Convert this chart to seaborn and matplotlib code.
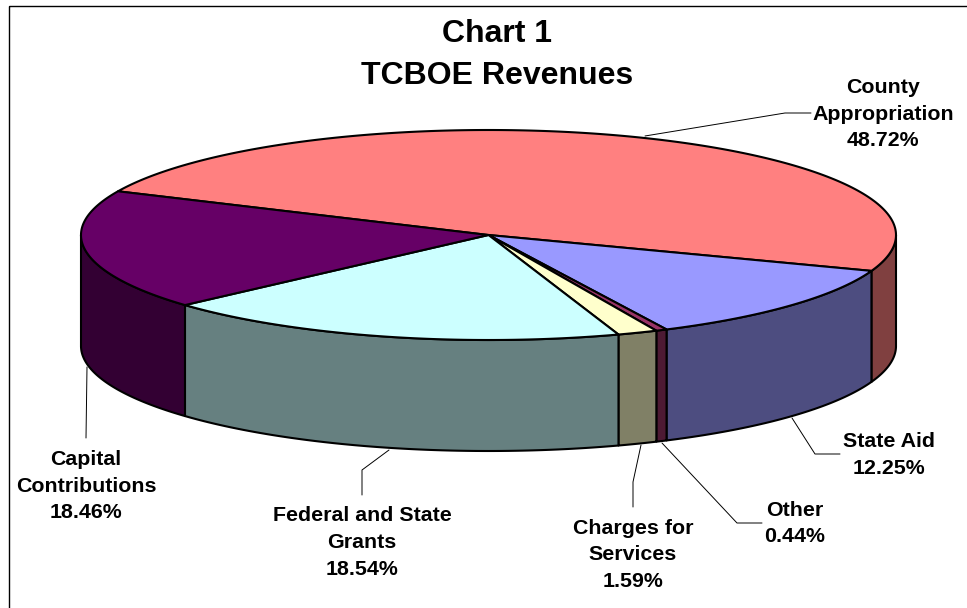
import numpy as np
import matplotlib
matplotlib.use('Agg')
import matplotlib.pyplot as plt
from matplotlib.patches import Polygon, Rectangle
import seaborn as sns

# Werte aus dem Bild
categories = ['County\nAppropriation', 'State Aid', 'Other', 'Charges for\nServices',
              'Federal and State\nGrants', 'Capital\nContributions']
shares = [48.72, 12.25, 0.44, 1.59, 18.54, 18.46]
top_colors = ['#FF8080', '#9999FF', '#993366', '#FFFFCC', '#CCFFFF', '#660066']
side_colors = ['#804040', '#4D4D80', '#4D1A33', '#808066', '#668080', '#330033']

# Layout in Pixeln
cx, cy, rx, ry, depth = 488.5, 235, 407.5, 105, 111
start_angle = 204.6
label_pos = [(883, 114), (889, 455), (795, 523.5), (633, 555), (362, 542.5), (86, 486)]
leaders = [
    [(645, 136), (785, 113), (811, 113)],
    [(792, 418), (815, 454), (840, 454)],
    [(662, 443), (737, 523), (762, 523)],
    [(641, 445), (633, 482), (633, 507)],
    [(389, 450), (362, 470), (362, 495)],
    [(87, 367), (86, 438)],
]

sns.set_theme(style='white')
plt.rcParams['font.family'] = ['Liberation Sans', 'DejaVu Sans']

fig = plt.figure(figsize=(9.67, 6.08), dpi=100)
ax = fig.add_axes([0, 0, 1, 1])
ax.set_xlim(0, 967)
ax.set_ylim(608, 0)
ax.set_axis_off()

ax.add_patch(Rectangle((8.5, 5.5), 970, 620, fill=False, ec='black', lw=1.0))


def arc(t1, t2, dy=0):
    t = np.radians(np.linspace(t1, t2, 200))
    return np.column_stack([cx + rx * np.cos(t), cy + dy + ry * np.sin(t)])


# Winkel der Segmente (im Uhrzeigersinn)
edges = start_angle + np.concatenate([[0], np.cumsum(shares)]) / sum(shares) * 360

# Seitenwaende: nur der vordere Teil (0-180 Grad) ist sichtbar
for i in range(len(shares)):
    for off in (0, 360, 720):
        t1 = max(edges[i], off)
        t2 = min(edges[i + 1], off + 180)
        if t2 > t1:
            wall = np.vstack([arc(t1, t2), arc(t1, t2, depth)[::-1]])
            ax.add_patch(Polygon(wall, closed=True, fc=side_colors[i], ec='black', lw=1.5, joinstyle='round'))

# Deckflaeche
for i in range(len(shares)):
    face = np.vstack([[(cx, cy)], arc(edges[i], edges[i + 1])])
    ax.add_patch(Polygon(face, closed=True, fc=top_colors[i], ec='black', lw=1.5, joinstyle='round'))

# Beschriftungen
for name, share, (x, y), pts in zip(categories, shares, label_pos, leaders):
    ax.plot(*zip(*pts), color='black', lw=0.7)
    ax.text(x, y, f'{name}\n{share:.2f}%', ha='center', va='center', fontsize=15.4,
            fontweight='bold', color='black', linespacing=1.52)

ax.text(497, 55, 'Chart 1\nTCBOE Revenues', ha='center', va='center', fontsize=23,
        fontweight='bold', color='black', linespacing=1.5)

plt.savefig('out.png', dpi=100)
plt.close()
